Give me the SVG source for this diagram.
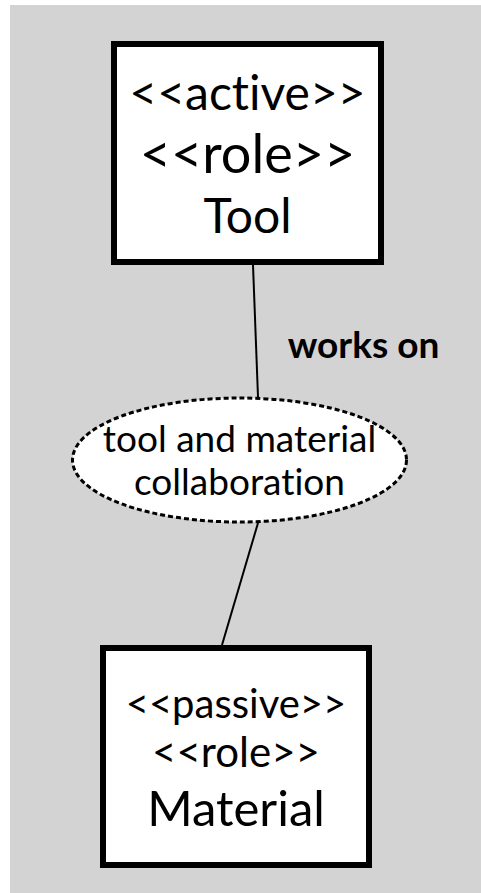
<svg xmlns="http://www.w3.org/2000/svg" width="481" height="893" viewBox="0 0 481 893">
<style>
.t{font-family:Lato,"Noto Sans",sans-serif;fill:#000;text-anchor:middle;font-variant-ligatures:none;font-feature-settings:"liga" 0,"clig" 0,"dlig" 0}
.box{fill:#fff;stroke:#000;stroke-width:6}
.edge{stroke:#000;stroke-width:2;fill:none}
</style>
<rect x="10" y="5" width="471" height="888" fill="#d3d3d3"/>
<g id="connectors">
<line class="edge" x1="253" y1="265" x2="258" y2="397"/>
<line class="edge" x1="258" y1="523" x2="222" y2="645"/>
<text class="t" x="363.5" y="358" font-size="37" font-weight="bold">works on</text>
</g>
<g id="tool">
<rect class="box" x="114" y="44" width="267" height="218"/>
<text class="t" x="247.5" y="110" font-size="48">&lt;&lt;active&gt;&gt;</text>
<text class="t" x="247.5" y="173" font-size="54">&lt;&lt;role&gt;&gt;</text>
<text class="t" x="247.5" y="233" font-size="48">Tool</text>
</g>
<g id="collab">
<ellipse cx="239.5" cy="460" rx="167" ry="62" fill="#fff" stroke="#000" stroke-width="3" stroke-dasharray="5,3"/>
<text class="t" x="239.5" y="452" font-size="37">tool and material</text>
<text class="t" x="239.5" y="495" font-size="37">collaboration</text>
</g>
<g id="material">
<rect class="box" x="103" y="648" width="266" height="217"/>
<text class="t" x="236" y="718" font-size="40">&lt;&lt;passive&gt;&gt;</text>
<text class="t" x="236" y="767" font-size="42">&lt;&lt;role&gt;&gt;</text>
<text class="t" x="236" y="826" font-size="49">Material</text>
</g>
</svg>
